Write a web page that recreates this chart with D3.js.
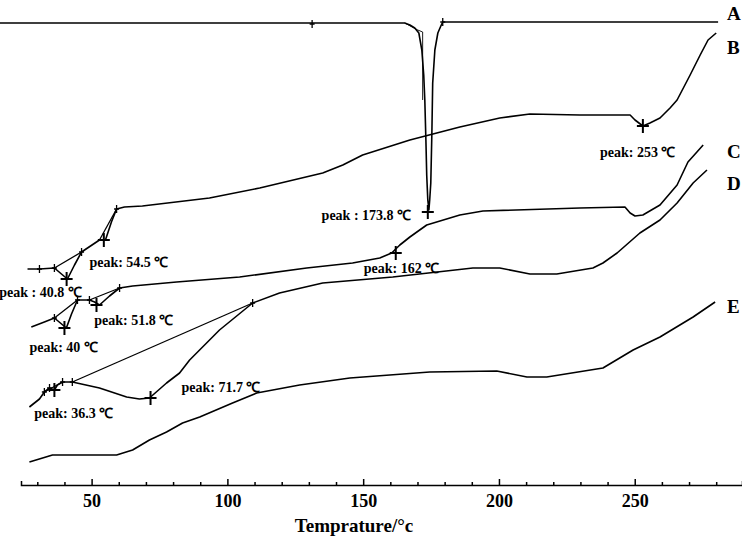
<!DOCTYPE html>
<html>
<head>
<meta charset="utf-8">
<script src="https://cdn.jsdelivr.net/npm/d3@7"></script>
<style>
  html, body { margin: 0; padding: 0; background: #fff; }
  svg { display: block; }
  text { font-family: "Liberation Serif", "Times New Roman", serif; font-weight: bold; fill: #000; }
</style>
</head>
<body>
<div id="chart"></div>
<script>
// DSC curves: [temperature °C, heat flow (arb. units, no y axis)]
const curveA = [[16.0,47.7],[165.3,47.7],[167.2,47.5],[169.0,47.2],[170.5,46.7],[171.6,45.0],[172.3,42.5],[172.7,40.0],[173.1,36.0],[173.4,32.5],[173.8,30.0],[174.2,29.0],[174.5,30.0],[174.9,31.7],[175.3,36.7],[175.6,41.7],[176.4,45.0],[177.5,46.7],[178.6,47.4],[179.3,47.8],[280.7,47.8]];
const curveA2 = [[165.3,47.7],[170.1,47.0],[171.9,46.8],[171.9,40.0]];
const curveB = [[26.4,23.1],[30.8,23.1],[36.3,23.2],[38.9,22.6],[41.1,22.1],[43.7,23.5],[46.3,24.8],[52.9,26.0],[55.1,26.0],[57.3,27.8],[59.2,29.1],[62.1,29.3],[68.7,29.4],[93.4,30.2],[111.9,31.2],[135.1,32.7],[142.5,33.5],[149.8,34.5],[167.2,36.0],[185.6,37.3],[200.3,38.2],[211.4,38.6],[229.8,38.5],[248.3,38.5],[250.1,38.0],[253.0,37.4],[255.6,37.7],[259.3,38.2],[263.0,39.2],[265.6,40.0],[270.4,42.5],[274.1,44.5],[277.0,46.0],[280.0,46.7]];
const curveC = [[27.8,17.3],[32.6,17.8],[36.3,18.2],[38.5,17.7],[40.7,17.2],[42.6,18.6],[44.8,20.0],[49.2,20.0],[51.1,19.8],[52.9,19.5],[56.6,20.4],[60.3,21.2],[65.1,21.4],[81.3,21.8],[104.5,22.3],[129.2,23.2],[146.1,23.7],[156.1,24.2],[160.5,24.7],[163.5,25.5],[167.2,26.3],[173.4,27.5],[185.6,28.5],[194.1,28.9],[229.8,29.2],[246.4,29.3],[248.3,28.7],[250.1,28.4],[253.0,28.5],[259.3,29.5],[265.6,31.5],[269.6,33.8],[272.9,34.8],[275.2,35.5]];
const curveD = [[27.1,9.3],[30.8,10.1],[32.6,10.8],[34.5,11.2],[36.3,11.0],[37.4,11.5],[39.3,11.8],[42.9,11.8],[52.9,11.2],[62.9,10.3],[67.6,10.1],[71.3,10.2],[77.6,11.7],[82.4,12.7],[86.1,14.0],[97.1,17.0],[109.3,19.7],[119.2,20.7],[135.1,21.7],[160.9,22.3],[190.4,23.2],[200.3,23.2],[211.4,22.6],[221.3,22.6],[234.6,23.2],[238.3,23.7],[243.5,24.7],[251.9,26.7],[259.3,28.0],[265.6,29.7],[271.5,31.7],[276.6,33.0]];
const curveE = [[27.1,3.8],[35.6,4.5],[59.2,4.5],[65.1,5.0],[71.3,6.0],[77.6,6.8],[83.5,7.7],[89.8,8.3],[101.9,9.7],[110.8,10.7],[126.6,11.5],[145.1,12.2],[174.5,12.8],[199.2,12.9],[210.3,12.3],[217.6,12.3],[238.3,13.2],[249.4,15.0],[259.3,16.3],[271.5,18.3],[279.6,19.8]];

const curveNames = ["A", "B", "C", "D", "E"];
const nameHeat = [48.0, 44.6, 34.2, 31.0, 18.7];
const nameTemp = 284;

// peak markers and their labels
const peakTemps = [173.8, 40.8, 54.5, 253, 40, 51.8, 162, 36.3, 71.7];
const peakHeat = [28.8, 22.1, 26.0, 37.4, 17.2, 19.5, 24.7, 11.0, 10.2];
const peakText = ["peak : 173.8 \u2103", "peak : 40.8 \u2103", "peak: 54.5 \u2103", "peak: 253 \u2103", "peak: 40 \u2103", "peak: 51.8 \u2103", "peak: 162 \u2103", "peak: 36.3 \u2103", "peak: 71.7 \u2103"];
const textTemp = [134.7, 16.0, 49.2, 237.2, 27.1, 51.0, 150.2, 28.9, 83.1];
const textHeat = [28.0, 20.3, 23.3, 34.3, 14.8, 17.5, 22.7, 8.2, 10.8];

// small onset ticks on the traces
const onsetTemps = [131.2, 179.3, 30.8, 36.3, 46.3, 59.2, 36.3, 44.8, 49.2, 60.3, 32.6, 34.5, 39.3, 42.9, 109.3];
const onsetHeat = [47.6, 47.8, 23.1, 23.2, 24.8, 29.1, 18.2, 20.0, 20.0, 21.2, 10.8, 11.2, 11.8, 11.8, 19.7];

// baseline chords drawn under the peaks
const chords = [
  [[36.3,23.2],[46.3,24.8]],
  [[52.9,26.0],[59.2,29.1]],
  [[36.3,18.2],[44.8,20.0]],
  [[49.2,20.0],[60.3,21.2]],
  [[32.6,10.8],[39.3,11.8]],
  [[42.9,11.8],[109.3,19.7]]
];

const majorTicks = [50, 100, 150, 200, 250];
const minorTicks = [30, 40, 60, 70, 80, 90, 110, 120, 130, 140, 160, 170, 180, 190, 210, 220, 230, 240, 260, 270, 280];

const width = 742;
const height = 536;
const axisY = 485;

const svg = d3.select("#chart")
  .append("svg")
  .attr("width", width)
  .attr("height", height);

// Scales
const x = d3.scaleLinear().domain([24, 289.5]).range([21, 742]);
const y = d3.scaleLinear().domain([-3.6, 50]).range([536, 0]);

// Axis (ticks point up)
svg.append("g")
  .attr("transform", `translate(0,${axisY})`)
  .call(d3.axisBottom(x).tickValues(minorTicks).tickSizeInner(-3).tickSizeOuter(-4).tickFormat(""))
  .call(g => g.selectAll("path, line").attr("stroke", "#000").attr("stroke-width", 1.5));

svg.append("g")
  .attr("transform", `translate(0,${axisY})`)
  .call(d3.axisBottom(x).tickValues(majorTicks).tickSize(-6).tickPadding(9))
  .call(g => g.select(".domain").remove())
  .call(g => g.selectAll("line").attr("stroke", "#000").attr("stroke-width", 1.5))
  .call(g => g.selectAll("text")
    .attr("font-family", "'Liberation Serif', serif")
    .attr("font-weight", "bold")
    .attr("font-size", 18)
    .attr("fill", "#000"));

svg.append("text")
  .attr("x", 354)
  .attr("y", 532)
  .attr("text-anchor", "middle")
  .style("font-size", "19px")
  .text("Temprature/\u00b0c");

// Curves
const line = d3.line().x(d => x(d[0])).y(d => y(d[1]));

[curveA, curveB, curveC, curveD, curveE].forEach(c => {
  svg.append("path")
    .attr("d", line(c))
    .attr("fill", "none")
    .attr("stroke", "#000")
    .attr("stroke-width", 1.6)
    .attr("stroke-linejoin", "round");
});

svg.append("path")
  .attr("d", line(curveA2))
  .attr("fill", "none")
  .attr("stroke", "#000")
  .attr("stroke-width", 0.9);

chords.forEach(c => {
  svg.append("path")
    .attr("d", line(c))
    .attr("fill", "none")
    .attr("stroke", "#000")
    .attr("stroke-width", 1.3);
});

// onset ticks
svg.selectAll(".onset")
  .data(onsetTemps)
  .enter()
  .append("path")
  .attr("class", "onset")
  .attr("d", (t, i) => {
    const cx = x(t), cy = y(onsetHeat[i]);
    return `M${cx},${cy - 4}V${cy + 4}M${cx - 2.5},${cy}H${cx + 2.5}`;
  })
  .attr("stroke", "#000")
  .attr("stroke-width", 1.3);

// peak markers
svg.selectAll(".peak")
  .data(peakTemps)
  .enter()
  .append("path")
  .attr("class", "peak")
  .attr("d", (t, i) => {
    const cx = x(t), cy = y(peakHeat[i]);
    return `M${cx - 6},${cy}H${cx + 6}M${cx},${cy - 7}V${cy + 7}`;
  })
  .attr("stroke", "#000")
  .attr("stroke-width", 2);

svg.selectAll(".peak-label")
  .data(peakText)
  .enter()
  .append("text")
  .attr("class", "peak-label")
  .attr("x", (d, i) => x(textTemp[i]))
  .attr("y", (d, i) => y(textHeat[i]))
  .style("font-size", "14px")
  .text(d => d);

// curve letters
svg.selectAll(".name")
  .data(curveNames)
  .enter()
  .append("text")
  .attr("class", "name")
  .attr("x", x(nameTemp))
  .attr("y", (d, i) => y(nameHeat[i]))
  .style("font-size", "19px")
  .text(d => d);
</script>
</body>
</html>
